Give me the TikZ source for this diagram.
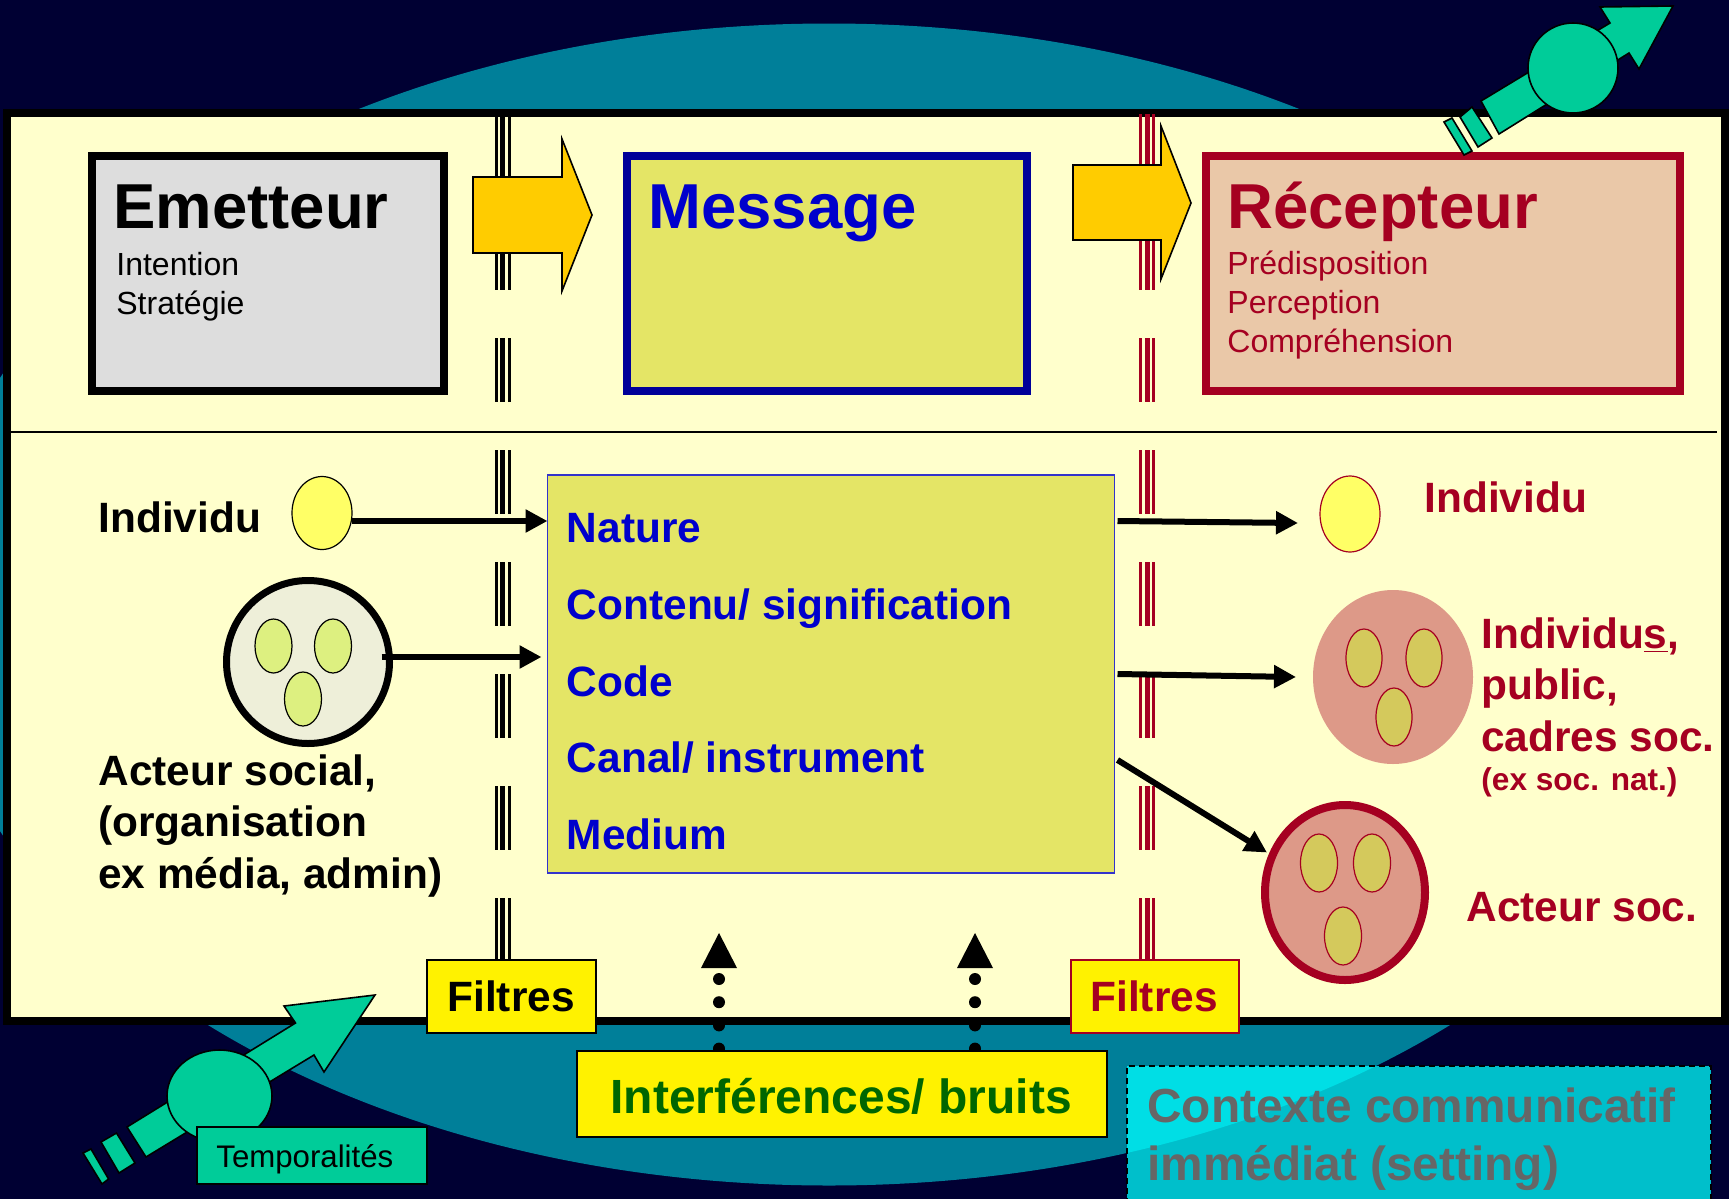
\documentclass[tikz,border=0pt]{standalone}
\usepackage{fontspec}
\setmainfont{Liberation Sans}
\usetikzlibrary{shapes.geometric,arrows.meta}
\definecolor{navy}{HTML}{000033}
\definecolor{teal}{HTML}{007F99}
\definecolor{cream}{HTML}{FFFFCC}
\definecolor{msgfill}{HTML}{E4E566}
\definecolor{bluetxt}{HTML}{0000CC}
\definecolor{bluebord}{HTML}{000099}
\definecolor{redtxt}{HTML}{A50021}
\definecolor{recfill}{HTML}{EAC8A8}
\definecolor{grayfill}{HTML}{DDDDDD}
\definecolor{gold}{HTML}{FFCC00}
\definecolor{mint}{HTML}{00CC99}
\definecolor{pinkfill}{HTML}{DD9988}
\definecolor{olive}{HTML}{D4C95C}
\definecolor{leaf}{HTML}{DDF080}
\definecolor{pale}{HTML}{EEEFD9}
\definecolor{darkgreen}{HTML}{006600}
\definecolor{contextgray}{HTML}{666666}
\tikzset{
  bigbox/.style={draw,rectangle,line width=4pt,inner sep=0pt,outer sep=0pt},
  flatbox/.style={draw,rectangle,line width=.75pt,inner sep=0pt,outer sep=0pt},
  oval/.style={draw,ellipse,inner sep=0pt,outer sep=0pt,line width=.6pt},
  title/.style={anchor=base west,inner sep=0pt,font=\fontsize{31.75}{36}\selectfont\bfseries},
  sub/.style={anchor=base west,inner sep=0pt,align=left,font=\fontsize{16}{19.3}\selectfont},
  lab/.style={anchor=base west,inner sep=0pt,align=left,font=\fontsize{21.2}{25.6}\selectfont\bfseries},
  stripe/.style={dash pattern=on 32pt off 24pt},
  conn/.style={line width=3pt,-{Triangle[length=11pt,width=11pt]}},
  blockarrow/.style={draw=black,fill=gold,line width=.8pt,line join=miter},
  mintshape/.style={draw=black,fill=mint,line width=.8pt},
  dots/.style={line width=6pt,line cap=round,dash pattern=on 0pt off 11.6pt},
  dottip/.style={fill=black}
}
\begin{document}
\begin{tikzpicture}[x=0.5pt,y=-0.5pt]
\useasboundingbox (0,0) rectangle (1729,1199);
\fill[navy] (0,0) rectangle (1729,1199);
\fill[teal] (829,604.5) ellipse [x radius=450pt,y radius=290.5pt];
% main frame
\node[bigbox,fill=cream,minimum width=859pt,minimum height=454pt] (frame) at (866,567) {};
\draw[line width=1pt] (10,432) -- (1717,432);
% filter stripes
\foreach \xx/\ww in {496/1.5,502.5/2.5,509.5/1.5}
  \draw[stripe,line width=\ww pt,black] (\xx,114) -- (\xx,962);
\foreach \xx/\ww in {1140.5/1.5,1147/2.5,1153.5/1.5}
  \draw[stripe,line width=\ww pt,redtxt] (\xx,114) -- (\xx,962);
% block arrows
\draw[blockarrow] (473,177) -- (562,177) -- (562,139) -- (592,215) -- (562,291) -- (562,253) -- (473,253) -- cycle;
\draw[blockarrow] (1073,165) -- (1161,165) -- (1161,126) -- (1191,203) -- (1161,279) -- (1161,240) -- (1073,240) -- cycle;
% top boxes
\node[bigbox,fill=grayfill,minimum width=176pt,minimum height=117.5pt] (emet) at (268,273.5) {};
\node[bigbox,draw=bluebord,fill=msgfill,minimum width=200pt,minimum height=117.5pt] (mess) at (827,273.5) {};
\node[bigbox,draw=redtxt,fill=recfill,minimum width=237pt,minimum height=117.5pt] (rece) at (1443,273.5) {};
\node[title] (temet) at (113,228) {Emetteur};
\node[sub] (semet) at (116,314) {Intention\\Stratégie};
\node[title,text=bluetxt] (tmess) at (648,228) {Message};
\node[title,text=redtxt] (trece) at (1227,228) {Récepteur};
\node[sub,text=redtxt] (srece) at (1227,352) {Prédisposition\\Perception\\Compréhension};
% central box
\node[flatbox,draw={rgb,255:red,51;green,51;blue,204},fill=msgfill,minimum width=283.5pt,minimum height=199pt] (central) at (831,674) {};
\node[lab,text=bluetxt] (c1) at (566.5,542) {Nature};
\node[lab,text=bluetxt] (c2) at (566.5,619) {Contenu/ signification};
\node[lab,text=bluetxt] (c3) at (566.5,696) {Code};
\node[lab,text=bluetxt] (c4) at (566.5,772) {Canal/ instrument};
\node[lab,text=bluetxt] (c5) at (566.5,849) {Medium};
% left side
\node[lab] (lind) at (98,532) {Individu};
\node[oval,fill={rgb,255:red,255;green,255;blue,102},minimum width=30pt,minimum height=36.5pt] (indL) at (322,513) {};
\node[oval,line width=3.5pt,fill=pale,minimum width=81.5pt,minimum height=81.5pt] (actL) at (308,662) {};
\node[oval,fill=leaf,minimum width=18.5pt,minimum height=27pt] (aL1) at (273.5,646) {};
\node[oval,fill=leaf,minimum width=18.5pt,minimum height=27pt] (aL2) at (333,646) {};
\node[oval,fill=leaf,minimum width=18.5pt,minimum height=27pt] (aL3) at (303,699) {};
\node[lab] (lact) at (98,888) {Acteur social,\\(organisation\\ex média, admin)};
% right side
\node[oval,draw=redtxt,fill={rgb,255:red,255;green,255;blue,102},minimum width=30pt,minimum height=38pt] (indR) at (1350,514) {};
\node[lab,text=redtxt] (rind) at (1424,512) {Individu};
\node[ellipse,fill=pinkfill,inner sep=0pt,outer sep=0pt,minimum width=80pt,minimum height=87pt] (pub) at (1393,677) {};
\node[oval,draw=redtxt,fill=olive,minimum width=18pt,minimum height=29pt] (p1) at (1364,658) {};
\node[oval,draw=redtxt,fill=olive,minimum width=18pt,minimum height=29pt] (p2) at (1424,658) {};
\node[oval,draw=redtxt,fill=olive,minimum width=18pt,minimum height=29pt] (p3) at (1394,717) {};
\node[lab,text=redtxt] (rpub) at (1481,751) {Individu\underline{s},\\public,\\cadres soc.};
\node[anchor=base west,inner sep=0pt,font=\fontsize{15.8}{19}\selectfont\bfseries,text=redtxt] (rex) at (1481,790) {(ex soc. nat.)};
\node[oval,draw=redtxt,line width=4pt,fill=pinkfill,minimum width=80pt,minimum height=87.5pt] (actR) at (1345,892.5) {};
\node[oval,draw=redtxt,fill=olive,minimum width=18.5pt,minimum height=29pt] (r1) at (1319,863) {};
\node[oval,draw=redtxt,fill=olive,minimum width=18.5pt,minimum height=29pt] (r2) at (1372,863) {};
\node[oval,draw=redtxt,fill=olive,minimum width=18.5pt,minimum height=29pt] (r3) at (1343,936) {};
\node[lab,text=redtxt] (ract) at (1466,921) {Acteur soc.};
% connectors
\draw[conn] ([yshift=-4pt]indL.east) -- ([yshift=76.5pt]central.west);
\draw[conn] ([xshift=-4pt,yshift=2.5pt]actL.east) -- ([xshift=-3pt,yshift=8.5pt]central.west);
\draw[conn] ([xshift=1.5pt,yshift=76.5pt]central.east) -- ([yshift=-4.5pt,xshift=-11pt]indR.west);
\draw[conn] ([xshift=1.5pt]central.east) -- ([xshift=-8.5pt]pub.west);
\draw[conn] ([xshift=1.5pt,yshift=-43pt]central.east) -- ([xshift=1pt,yshift=20pt]actR.west);
% filters and noise
\draw[dots] (719,979) -- (719,1060);
\draw[dots] (975,979) -- (975,1060);
\fill[dottip] (719,933) -- (737,968) -- (701,968) -- cycle;
\fill[dottip] (975,933) -- (993,968) -- (957,968) -- cycle;
\node[flatbox,fill=yellow,minimum width=84.5pt,minimum height=36.5pt] (filt1) at (511.5,996.5) {};
\node[lab] (tf1) at (447,1011) {Filtres};
\node[flatbox,draw=redtxt,fill=yellow,minimum width=84pt,minimum height=36.5pt] (filt2) at (1155,996.5) {};
\node[lab,text=redtxt] (tf2) at (1090,1011) {Filtres};
\node[flatbox,fill=yellow,minimum width=265pt,minimum height=43pt] (interf) at (842,1094) {};
\node[anchor=base west,inner sep=0pt,font=\fontsize{24}{29}\selectfont\bfseries,text=darkgreen] (tint) at (610,1113) {Interférences/ bruits};
% contexte
\node[rectangle,draw=black,densely dashed,line width=.75pt,fill={rgb,255:red,0;green,255;blue,255},fill opacity=.75,draw opacity=1,inner sep=0pt,outer sep=0pt,minimum width=292pt,minimum height=75pt] (ctx) at (1419,1141) {};
\node[anchor=base west,inner sep=0pt,align=left,font=\fontsize{23.9}{29}\selectfont\bfseries,text=contextgray] (tctx) at (1147,1180) {Contexte communicatif\\immédiat (setting)};
% upper right mint arrow
\draw[mintshape] (1481,101) -- (1610,23) -- (1600,7) -- (1673,6) -- (1639,69) -- (1629,53) -- (1499,134) -- cycle;
\node[oval,draw=black,fill=mint,line width=.8pt,minimum width=45pt,minimum height=45pt] (mintA) at (1573,68) {};
\draw[mintshape] (1460,117) -- (1472,107) -- (1492,138) -- (1478,147) -- cycle;
\draw[mintshape] (1444,122) -- (1452,118) -- (1472,151) -- (1464,155) -- cycle;
% lower left mint arrow
\draw[mintshape] (127,1127) -- (295.5,1023) -- (284,1006) -- (375,995) -- (324,1072) -- (314,1055) -- (146,1157) -- cycle;
\node[oval,draw=black,fill=mint,line width=.8pt,minimum width=52.5pt,minimum height=46pt] (mintB) at (219.5,1096) {};
\draw[mintshape] (101,1142) -- (116.5,1133) -- (135,1163) -- (119,1173) -- cycle;
\draw[mintshape] (83,1153) -- (91,1149) -- (108.6,1179) -- (102,1184) -- cycle;
\node[flatbox,fill=mint,minimum width=115pt,minimum height=28.5pt] (temp) at (312,1155.5) {};
\node[anchor=base west,inner sep=0pt,font=\fontsize{15.6}{19}\selectfont] (ttemp) at (216,1167) {Temporalités};
\end{tikzpicture}
\end{document}
